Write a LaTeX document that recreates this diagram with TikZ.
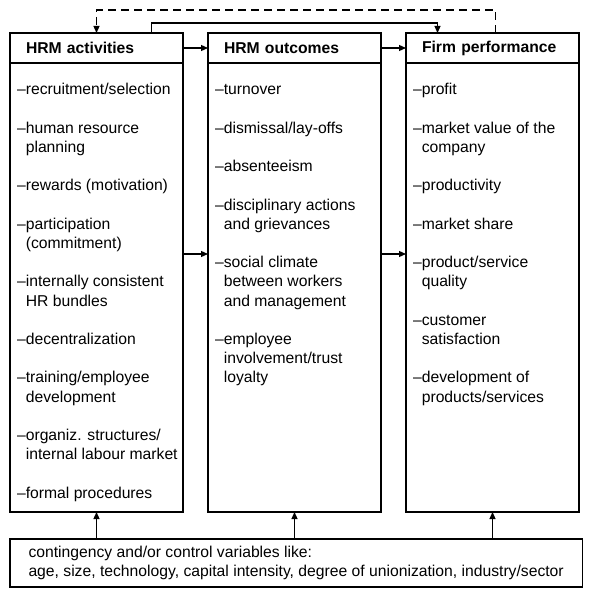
\documentclass[tikz,border=0pt]{standalone}
\usepackage{fontspec}
\setmainfont{Liberation Sans}
\usetikzlibrary{positioning,arrows.meta}

\newcommand{\bodyfont}{\fontsize{15.7pt}{19.2pt}\selectfont}
\newcommand{\dashlist}[1]{%
  \parbox[t][449pt][t]{173pt}{\bodyfont\raggedright
    \setlength{\leftskip}{15.8pt}%
    \vspace*{18.5pt}\leavevmode\strut\setlength{\parskip}{19.2pt}#1}}
\newcommand{\itm}{\leavevmode\llap{--}}

\begin{document}
\begin{tikzpicture}[
  hdr/.style={draw, line width=1.4pt, outer sep=0pt, text width=141pt, inner xsep=16pt,
    minimum height=30pt, align=left, font=\bodyfont\bfseries},
  bodybox/.style={draw, line width=1.4pt, outer sep=0pt, inner sep=0pt, minimum width=173pt},
  ctrlbox/.style={draw, line width=1.4pt, outer sep=0pt, inner xsep=18.5pt,
    minimum height=48pt, align=left, font=\bodyfont},
  arr/.style={-{Triangle[length=7pt,width=6pt]}, line width=1.2pt},
  dasharr/.style={arr, dash pattern=on 8pt off 5pt}
]
\useasboundingbox (0,0) rectangle (589pt,-596pt);

% headers
\node[hdr, anchor=north west] (actHead) at (10pt,-33pt) {HRM activities};
\node[hdr, right=25pt of actHead] (outHead) {HRM outcomes};
\node[hdr, right=25pt of outHead] (perfHead) {Firm performance};

% columns
\node[bodybox, below=0pt of actHead] (actBody) {\dashlist{%
  \itm recruitment/selection\par
  \itm human resource\\planning\par
  \itm rewards (motivation)\par
  \itm participation\\(commitment)\par
  \itm internally consistent\\HR bundles\par
  \itm decentralization\par
  \itm training/employee\\development\par
  \itm organiz. structures/\\internal labour market\par
  \itm formal procedures}};
\node[bodybox, below=0pt of outHead] (outBody) {\dashlist{%
  \itm turnover\par
  \itm dismissal/lay-offs\par
  \itm absenteeism\par
  \itm disciplinary actions\\and grievances\par
  \itm social climate\\between workers\\and management\par
  \itm employee\\involvement/trust\\loyalty}};
\node[bodybox, below=0pt of perfHead] (perfBody) {\dashlist{%
  \itm profit\par
  \itm market value of the\\company\par
  \itm productivity\par
  \itm market share\par
  \itm product/service\\quality\par
  \itm customer\\satisfaction\par
  \itm development of\\products/services}};

% control variables
\node[ctrlbox, anchor=north west] (ctrl) at ([yshift=-27pt]actBody.south west)
  {contingency and/or control variables like:\\
   age, size, technology, capital intensity, degree of unionization, industry/sector};

% links
\draw[arr] (actHead) -- (outHead);
\draw[arr] (outHead) -- (perfHead);
\draw[arr] ([yshift=-191pt]actBody.north east) -- ([yshift=-191pt]outBody.north west);
\draw[arr] ([yshift=-191pt]outBody.north east) -- ([yshift=-191pt]perfBody.north west);

\draw[arr] ([xshift=55pt]actHead.north) -- ++(0,10pt) -| ([xshift=-55pt]perfHead.north);
\draw[dasharr] ([xshift=3pt]perfHead.north) -- ++(0,23pt) -| (actHead.north);

\draw[arr] (ctrl.north -| actBody.south) -- (actBody.south);
\draw[arr] (ctrl.north -| outBody.south) -- (outBody.south);
\draw[arr] (ctrl.north -| perfBody.south) -- (perfBody.south);

\end{tikzpicture}
\end{document}
